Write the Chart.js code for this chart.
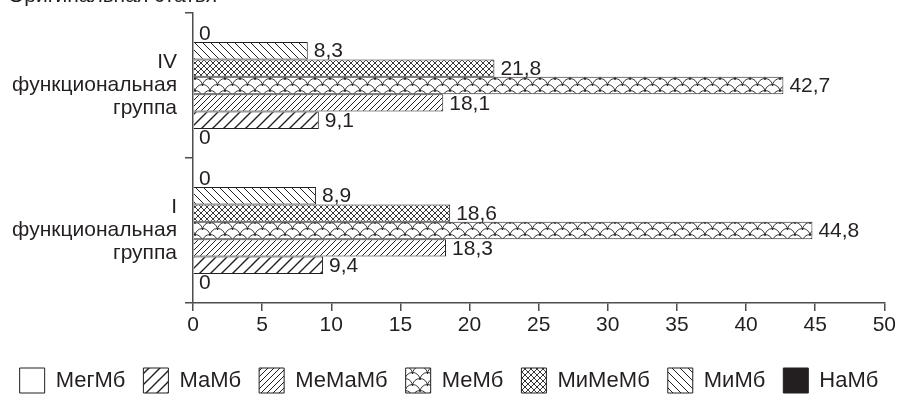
<!DOCTYPE html>
<html>
<head>
<meta charset="utf-8">
<script src="https://cdn.jsdelivr.net/npm/chart.js@4.4.0/dist/chart.umd.min.js"></script>
<style>
  html, body { margin: 0; padding: 0; background: #fff; overflow: hidden; }
  #wrap { position: relative; width: 898px; height: 394px; }
  #head { position: absolute; left: 8px; top: -17px; z-index: 2;
          font: 21px "Liberation Sans", Arial, sans-serif; color: #231f20; }
</style>
</head>
<body>
<div id="wrap">
  <canvas id="chart" width="898" height="394"></canvas>
  <div id="head">Оригинальная статья</div>
</div>
<script>
// categories (top to bottom) and series values
var groups = [['IV', 'функциональная', 'группа'], ['I', 'функциональная', 'группа']];
var megMb  = [0, 0];
var maMb   = [9.1, 9.4];
var meMaMb = [18.1, 18.3];
var meMb   = [42.7, 44.8];
var miMeMb = [21.8, 18.6];
var miMb   = [8.3, 8.9];
var naMb   = [0, 0];
var xMin = 0, xMax = 50, xStep = 5;

var ink = '#231f20';

function makePattern(w, h, lw, draw) {
  var c = document.createElement('canvas');
  c.width = w; c.height = h;
  var g = c.getContext('2d');
  g.fillStyle = '#fff';
  g.fillRect(0, 0, w, h);
  g.strokeStyle = ink;
  g.lineWidth = lw;
  draw(g, w, h);
  return g.createPattern(c, 'repeat');
}
function slash(g, s) {
  g.beginPath();
  g.moveTo(0, s); g.lineTo(s, 0);
  g.moveTo(-1, 1); g.lineTo(1, -1);
  g.moveTo(s - 1, s + 1); g.lineTo(s + 1, s - 1);
  g.stroke();
}
function backslash(g, s) {
  g.beginPath();
  g.moveTo(0, 0); g.lineTo(s, s);
  g.moveTo(-1, s - 1); g.lineTo(1, s + 1);
  g.moveTo(s - 1, -1); g.lineTo(s + 1, 1);
  g.stroke();
}

var pMaMb = makePattern(11, 11, 1.4, function (g, w) { slash(g, w); });
var pMeMaMb = makePattern(6, 6, 1, function (g, w) { slash(g, w); });
var pMiMb = makePattern(8, 8, 1, function (g, w) { backslash(g, w); });
var pMiMeMb = makePattern(6, 6, 0.9, function (g, w) { slash(g, w); backslash(g, w); });
var pMeMb = makePattern(15, 12, 0.9, function (g) {
  var rows = [[2, 0], [8, 7.5], [14, 0], [20, 7.5]];
  rows.forEach(function (r) {
    [r[1] - 15, r[1], r[1] + 15].forEach(function (cx) {
      g.beginPath();
      g.arc(cx, r[0], 7.5, Math.PI, 2 * Math.PI);
      g.stroke();
    });
  });
});

var font = '"Liberation Sans", Arial, sans-serif';

var valueLabels = {
  id: 'valueLabels',
  afterDatasetsDraw: function (chart) {
    var ctx = chart.ctx;
    ctx.save();
    ctx.font = '21px ' + font;
    ctx.fillStyle = ink;
    ctx.textBaseline = 'middle';
    chart.data.datasets.forEach(function (ds, i) {
      chart.getDatasetMeta(i).data.forEach(function (bar, j) {
        ctx.fillText(String(ds.data[j]).replace('.', ','), bar.x + 6, bar.y + 1);
      });
    });
    ctx.restore();
  }
};

function ds(label, data, fill) {
  return { label: label, data: data, backgroundColor: fill, borderColor: ink, borderWidth: 1 };
}

new Chart(document.getElementById('chart'), {
  type: 'bar',
  data: {
    labels: groups,
    // first dataset is the top bar in each group
    datasets: [
      ds('НаМб', naMb, ink),
      ds('МиМб', miMb, pMiMb),
      ds('МиМеМб', miMeMb, pMiMeMb),
      ds('МеМб', meMb, pMeMb),
      ds('МеМаМб', meMaMb, pMeMaMb),
      ds('МаМб', maMb, pMaMb),
      ds('МегМб', megMb, '#fff')
    ]
  },
  options: {
    indexAxis: 'y',
    responsive: false,
    animation: false,
    devicePixelRatio: 1,
    categoryPercentage: 0.84,
    barPercentage: 1,
    layout: { padding: { top: 13, left: 0, right: 0, bottom: -9 } },
    plugins: {
      tooltip: { enabled: false },
      legend: {
        position: 'bottom',
        reverse: true,
        labels: {
          color: ink,
          font: { family: font, size: 22 },
          boxWidth: 25,
          boxHeight: 25,
          padding: 18
        }
      }
    },
    scales: {
      x: {
        min: xMin, max: xMax,
        ticks: { stepSize: xStep, color: ink, padding: 2,
                 font: { family: '"Liberation Sans Narrow", ' + font, size: 21 } },
        grid: { drawOnChartArea: false, tickLength: 8, color: '#4d4d4d', lineWidth: 1.5 },
        border: { color: '#4d4d4d', width: 1.5 },
        afterFit: function (s) { s.height = 47; }
      },
      y: {
        ticks: { color: ink, padding: 8, font: { family: font, size: 21, lineHeight: 1.1 } },
        grid: { drawOnChartArea: false, tickLength: 8, offset: true, color: '#4d4d4d', lineWidth: 1.5 },
        border: { color: '#4d4d4d', width: 1.5 },
        afterFit: function (s) { s.width = 193; s.paddingTop = 0; s.paddingBottom = 0; }
      }
    }
  },
  plugins: [valueLabels]
});
</script>
</body>
</html>
